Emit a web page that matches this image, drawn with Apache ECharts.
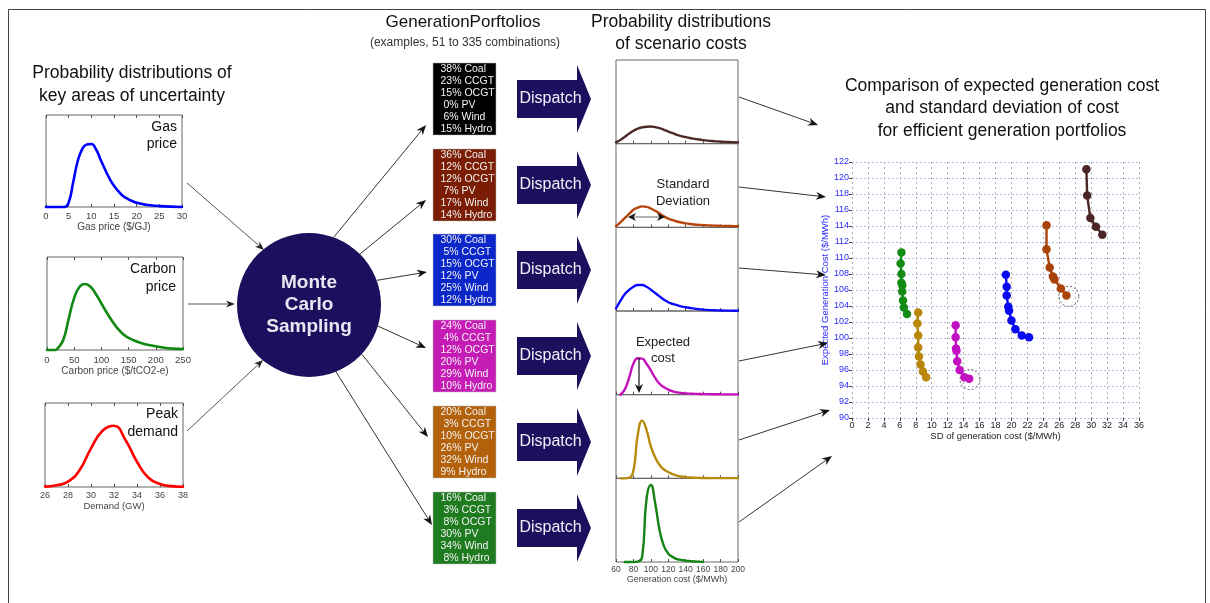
<!DOCTYPE html>
<html>
<head>
<meta charset="utf-8">
<script src="https://cdn.jsdelivr.net/npm/echarts@6.0.0/dist/echarts.min.js"></script>
<style>
html,body{margin:0;padding:0;background:#ffffff;}
#chart{width:1210px;height:603px;}
</style>
</head>
<body>
<div id="chart"></div>
<script>
// ---------- DATA ----------
const gasX = [0,4,5,6,7,8,9,10,11,12,13,14,15,16,17,18,19,20,22,25,30];
const gasY = [0,0,0.05,0.27,0.5,0.63,0.68,0.685,0.63,0.52,0.41,0.31,0.23,0.17,0.12,0.09,0.065,0.045,0.025,0.01,0];
const carbonX = [0,15,20,30,40,50,60,70,80,90,100,110,120,130,140,150,170,190,210,230,250];
const carbonY = [0,0,0.02,0.11,0.34,0.56,0.68,0.71,0.68,0.6,0.5,0.4,0.31,0.23,0.17,0.13,0.08,0.05,0.03,0.015,0.01];
const demandX = [26,27,28,29,30,31,32,33,34,35,36,37,38];
const demandY = [0.005,0.02,0.065,0.2,0.46,0.67,0.73,0.56,0.3,0.11,0.035,0.01,0.003];

const costX = [60,65,70,75,80,85,90,95,100,105,110,115,120,125,130,135,140,145,150,155,160,165,170,175,180,185,190,195,200];
const cost1 = [0.015,0.045,0.08,0.12,0.155,0.18,0.195,0.203,0.205,0.198,0.185,0.166,0.145,0.125,0.105,0.09,0.078,0.068,0.058,0.05,0.043,0.037,0.032,0.028,0.025,0.022,0.02,0.018,0.016];
const cost2 = [0.015,0.06,0.11,0.16,0.21,0.235,0.25,0.245,0.225,0.198,0.165,0.132,0.105,0.085,0.07,0.058,0.048,0.04,0.034,0.03,0.027,0.024,0.022,0.02,0.018,0.017,0.016,0.015,0.015];
const cost3 = [0.03,0.12,0.2,0.25,0.29,0.31,0.31,0.29,0.255,0.215,0.175,0.135,0.105,0.085,0.07,0.056,0.045,0.036,0.028,0.022,0.017,0.013,0.01,0.008,0.006,0.005,0.004,0.003,0.003];
const cost4 = [null,0,0.06,0.2,0.37,0.435,0.43,0.37,0.29,0.2,0.13,0.09,0.06,0.04,0.028,0.02,0.015,0.012,0.01,0.008,0.007,0.006,0.005,0.005,0.004,0.004,0.003,0.003,0.003];
const cost5 = [null,0,0,0.005,0.09,0.52,0.69,0.58,0.38,0.25,0.16,0.105,0.075,0.05,0.033,0.022,0.015,0.01,0.007,0.005,0.004,0.003,0.003,0.003,0.003,0.003,0.003,0.003,0.003];
const cost6 = [null,null,0,0,0,0.005,0.06,0.75,0.92,0.7,0.38,0.19,0.1,0.06,0.035,0.025,0.015,0.01,0.006,0.004,0.002,null,null,null,null,null,null,null,null];

const effGreen = [[6.2,110.7],[6.1,109.3],[6.2,108.0],[6.2,106.9],[6.3,106.6],[6.3,105.8],[6.4,104.7],[6.5,103.8],[6.9,103.0]];
const effGold = [[8.3,103.2],[8.2,101.8],[8.3,100.3],[8.3,98.8],[8.4,97.7],[8.6,96.7],[8.9,95.8],[9.3,95.1]];
const effMagenta = [[13.0,101.6],[13.0,100.1],[13.05,98.7],[13.1,98.4],[13.2,97.1],[13.5,96.0],[14.1,95.1],[14.7,94.9]];
const effBlue = [[19.3,107.9],[19.4,106.4],[19.4,105.3],[19.6,103.9],[19.7,103.4],[20.0,102.2],[20.5,101.1],[21.3,100.3],[22.2,100.1]];
const effBrown = [[24.4,114.1],[24.4,111.1],[24.8,108.8],[25.2,107.7],[25.4,107.3],[26.2,106.2],[26.9,105.3]];
const effDark = [[29.4,121.1],[29.5,117.8],[29.9,115.0],[30.6,113.9],[31.4,112.9]];
const highlighted = [[14.8,94.8],[27.2,105.2]];

const portfolios = [
  ["38% Coal","23% CCGT","15% OCGT"," 0% PV"," 6% Wind","15% Hydro"],
  ["36% Coal","12% CCGT","12% OCGT"," 7% PV","17% Wind","14% Hydro"],
  ["30% Coal"," 5% CCGT","15% OCGT","12% PV","25% Wind","12% Hydro"],
  ["24% Coal"," 4% CCGT","12% OCGT","20% PV","29% Wind","10% Hydro"],
  ["20% Coal"," 3% CCGT","10% OCGT","26% PV","32% Wind","9% Hydro"],
  ["16% Coal"," 3% CCGT"," 8% OCGT","30% PV","34% Wind"," 8% Hydro"]
];
const costTicks = [60,80,100,120,140,160,180,200];

// ---------- STYLE ----------
const FF = '"Liberation Sans", Arial, Helvetica, sans-serif';
const boxColors = ['#000000','#7a1d04','#0b27c9','#c61cb6','#b4610b','#1f7b20'];
const costColors = ['#4e2b2b','#b5440c','#0a0aff','#c412b8','#b88a0c','#148414'];
const effColors = ['#138a13','#b8860b','#c010c0','#0a0af0','#a84208','#4a2626'];
const NAVY = '#1c0f5e';

const pairs = (xs, ys) => xs.map((x, i) => [x, ys[i]]);

// grids
const costTop = 60, costH = (562 - 60) / 6;
const grids = [
  {left:46, top:115, width:136, height:92},
  {left:47, top:257, width:136, height:93},
  {left:45, top:403, width:138, height:84}
];
for (let i = 0; i < 6; i++) grids.push({left:616, top:costTop + i*costH, width:122, height:costH});
grids.push({left:852, top:162, width:287, height:256});
grids.forEach((g, i) => {
  g.containLabel = false;
  g.outerBoundsMode = 'none';
  if (i < 9) { g.show = true; g.borderColor = '#666'; g.borderWidth = 1; g.backgroundColor = 'rgba(0,0,0,0)'; }
  else g.show = false;
});

function axX(grid, min, max, interval, extra) {
  return Object.assign({
    gridIndex: grid, type: 'value', min, max, interval,
    axisLine: {show:false},
    axisTick: {show:true, inside:true, length:3, lineStyle:{color:'#555', width:1}},
    axisLabel: {show:false},
    splitLine: {show:false}
  }, extra || {});
}
function labelled(fontSize, margin, name, nameGap) {
  return {
    axisLabel: {show:true, fontSize, margin, color:'#444', fontFamily:FF},
    name, nameLocation:'middle', nameGap,
    nameTextStyle: {fontSize: fontSize + 0.5, color:'#444', fontFamily:FF}
  };
}

const xAxes = [
  axX(0, 0, 30, 5, labelled(9.5, 4, 'Gas price ($/GJ)', 14)),
  axX(0, 0, 30, 5, {position:'top'}),
  axX(1, 0, 250, 50, labelled(9.5, 5, 'Carbon price ($/tCO2-e)', 15)),
  axX(1, 0, 250, 50, {position:'top'}),
  axX(2, 26, 38, 2, labelled(9, 4, 'Demand (GW)', 11)),
  axX(2, 26, 38, 2, {position:'top'})
];
for (let i = 0; i < 6; i++) {
  xAxes.push(axX(3 + i, costTicks[0], costTicks[costTicks.length-1], costTicks[1]-costTicks[0],
    i === 5 ? labelled(8.5, 3, 'Generation cost ($/MWh)', 11) : {}));
}
xAxes.push({
  gridIndex: 9, type:'value', min:0, max:36, interval:2,
  axisLine:{show:false},
  axisTick:{show:true, length:3, lineStyle:{color:'#444'}},
  axisLabel:{fontSize:9, color:'#222', margin:3, fontFamily:FF},
  splitLine:{show:true, lineStyle:{color:'#b0b0b0', type:[2,3], width:1}},
  name:'SD of generation cost ($/MWh)', nameLocation:'middle', nameGap:13,
  nameTextStyle:{fontSize:9.5, color:'#222', fontFamily:FF}
});

const yAxes = [];
for (let i = 0; i < 9; i++) yAxes.push({gridIndex:i, type:'value', min:0, max:1, show:false});
yAxes.push({
  gridIndex: 9, type:'value', min:90, max:122, interval:2,
  axisLine:{show:false},
  axisTick:{show:true, length:3, lineStyle:{color:'#444'}},
  axisLabel:{fontSize:9, color:'#2a2aff', margin:3, fontFamily:FF},
  splitLine:{show:true, lineStyle:{color:'#b8b8f2', type:[2,2], width:1}},
  name:'Expected Generation Cost ($/MWh)', nameLocation:'middle', nameGap:18, nameRotate:90,
  nameTextStyle:{fontSize:9.5, color:'#2a2aff', fontFamily:FF}
});

function curve(xi, yi, data, color, w) {
  return {type:'line', xAxisIndex:xi, yAxisIndex:yi, data, smooth:0.5,
    showSymbol:false, symbol:'none', clip:false, silent:true,
    lineStyle:{color, width:w, join:'round', cap:'round'}, connectNulls:false};
}
const series = [
  curve(0, 0, pairs(gasX, gasY), '#0000ff', 2.6),
  curve(2, 1, pairs(carbonX, carbonY), '#118811', 2.6),
  curve(4, 2, pairs(demandX, demandY), '#ff0000', 2.6)
];
[cost1, cost2, cost3, cost4, cost5, cost6].forEach((c, i) => {
  series.push(curve(6 + i, 3 + i, pairs(costX, c), costColors[i], 2.4));
});
[effGreen, effGold, effMagenta, effBlue, effBrown, effDark].forEach((d, i) => {
  series.push({type:'line', xAxisIndex:12, yAxisIndex:9, data:d, symbol:'circle', symbolSize:8.5,
    showSymbol:true, clip:false, silent:true, lineStyle:{color:effColors[i], width:2.4},
    itemStyle:{color:effColors[i]}});
});
series.push({type:'scatter', xAxisIndex:12, yAxisIndex:9, data:highlighted, symbol:'circle', symbolSize:20,
  silent:true, itemStyle:{color:'rgba(0,0,0,0)', borderColor:'#444', borderWidth:1, borderType:[2,2]}});

// ---------- GRAPHICS ----------
const G = [];
function txt(x, y, text, size, opts) {
  const st = Object.assign({text, fill:'#111', fontSize:size, fontFamily:FF,
    textAlign:'center', textVerticalAlign:'middle', align:'center', verticalAlign:'middle'}, opts || {});
  if (st.textAlign !== st.align) st.align = st.textAlign;
  G.push({type:'text', x, y, z:60, style:st});
}
function arrow(x1, y1, x2, y2, color, hl, hw, lw, lineColor) {
  const a = Math.atan2(y2 - y1, x2 - x1), c = Math.cos(a), s = Math.sin(a);
  const bx = x2 - hl*c, by = y2 - hl*s;
  const nx = x2 - hl*0.7*c, ny = y2 - hl*0.7*s;
  G.push({type:'line', z:55, shape:{x1, y1, x2:nx, y2:ny}, style:{stroke:lineColor || color, lineWidth:lw}});
  G.push({type:'polygon', z:56, shape:{points:[[x2,y2],[bx - hw*s, by + hw*c],[nx,ny],[bx + hw*s, by - hw*c]]}, style:{fill:color}});
}

// outer frame
G.push({type:'polyline', z:1, shape:{points:[[8.5,603],[8.5,9.5],[1205.5,9.5],[1205.5,603]]}, style:{stroke:'#444', lineWidth:1, fill:null}});

// left section
txt(132, 84.5, 'Probability distributions of\nkey areas of uncertainty', 17.5, {lineHeight:23});
txt(177, 135.5, 'Gas\nprice', 14, {textAlign:'right', lineHeight:17});
txt(176, 278, 'Carbon\nprice', 14, {textAlign:'right', lineHeight:17.5});
txt(178, 423.5, 'Peak\ndemand', 14, {textAlign:'right', lineHeight:18});

arrow(187, 183, 264, 250, '#222', 9, 3.5, 1, '#555');
arrow(188, 304, 235, 304, '#222', 9, 3.5, 1, '#555');
arrow(187, 431, 263, 360, '#222', 9, 3.5, 1, '#555');

// Monte Carlo circle
const CX = 309, CY = 305, CR = 72;
G.push({type:'circle', z:20, shape:{cx:CX, cy:CY, r:CR}, style:{fill:NAVY}});
txt(CX, CY, 'Monte\nCarlo\nSampling', 19, {fill:'#e8e8f2', fontWeight:'bold', lineHeight:22});

// headers
txt(463, 22, 'GenerationPorftolios', 17);
txt(465, 43, '(examples, 51 to 335 combinations)', 12, {fill:'#333'});
txt(681, 33.5, 'Probability distributions\nof scenario costs', 17.5, {lineHeight:22});
txt(1002, 108.5, 'Comparison of expected generation cost\nand standard deviation of cost\nfor efficient generation portfolios', 17.5, {lineHeight:22.5});

// portfolio boxes, dispatch arrows, fan arrows
const centers = [99, 185, 270, 356, 442, 528];
const fanAngles = [-70, -45, -20, 17, 43, 68];
const fanTargets = [[426,125],[426,200],[427,272],[426,348],[428,437],[432,525]];
centers.forEach((cy, i) => {
  const top = cy - 36;
  G.push({type:'rect', z:20, shape:{x:433, y:top, width:63, height:72}, style:{fill:boxColors[i], stroke:'#bbb', lineWidth:0.5}});
  G.push({type:'text', x:440.5, y:cy, z:60, style:{text:portfolios[i].join('\n'), fill:'#f2f2f2', fontSize:10.5,
    fontFamily:FF, lineHeight:12, textAlign:'left', align:'left', textVerticalAlign:'middle', verticalAlign:'middle'}});
  G.push({type:'polygon', z:20, shape:{points:[[517,cy-19],[577,cy-19],[577,cy-34],[591,cy],[577,cy+34],[577,cy+19],[517,cy+19]]},
    style:{fill:NAVY}});
  txt(550.5, cy, 'Dispatch', 16, {fill:'#f0f0f8'});
  const ang = fanAngles[i] * Math.PI / 180;
  arrow(CX + CR*Math.cos(ang), CY + CR*Math.sin(ang), fanTargets[i][0], fanTargets[i][1], '#111', 10, 4, 1, '#333');
});

// annotations in cost plots
txt(683, 192.5, 'Standard\nDeviation', 13, {fill:'#222', lineHeight:17});
G.push({type:'line', z:55, shape:{x1:632, y1:217, x2:661, y2:217}, style:{stroke:'#888', lineWidth:1.2}});
arrow(646, 217, 628, 217, '#111', 8, 4, 0.1, '#888');
arrow(646, 217, 665, 217, '#111', 8, 4, 0.1, '#888');
txt(663, 350, 'Expected\ncost', 13, {fill:'#222', lineHeight:16});
arrow(639, 358, 639, 393, '#111', 9, 4, 1.2, '#111');

// arrows to comparison chart
const outArrows = [[739,97,818,125],[739,187,826,197],[739,268,826,275],[739,361,828,343],[739,440,830,410],[739,522,832,456]];
outArrows.forEach(a => arrow(a[0], a[1], a[2], a[3], '#111', 10, 4, 1, '#333'));

const option = {
  animation:false,
  backgroundColor:'#ffffff',
  textStyle:{fontFamily:FF},
  grid:grids, xAxis:xAxes, yAxis:yAxes, series, graphic:{elements:G}
};
const chart = echarts.init(document.getElementById('chart'), null, {renderer:'canvas', width:1210, height:603});
chart.setOption(option);
</script>
</body>
</html>
